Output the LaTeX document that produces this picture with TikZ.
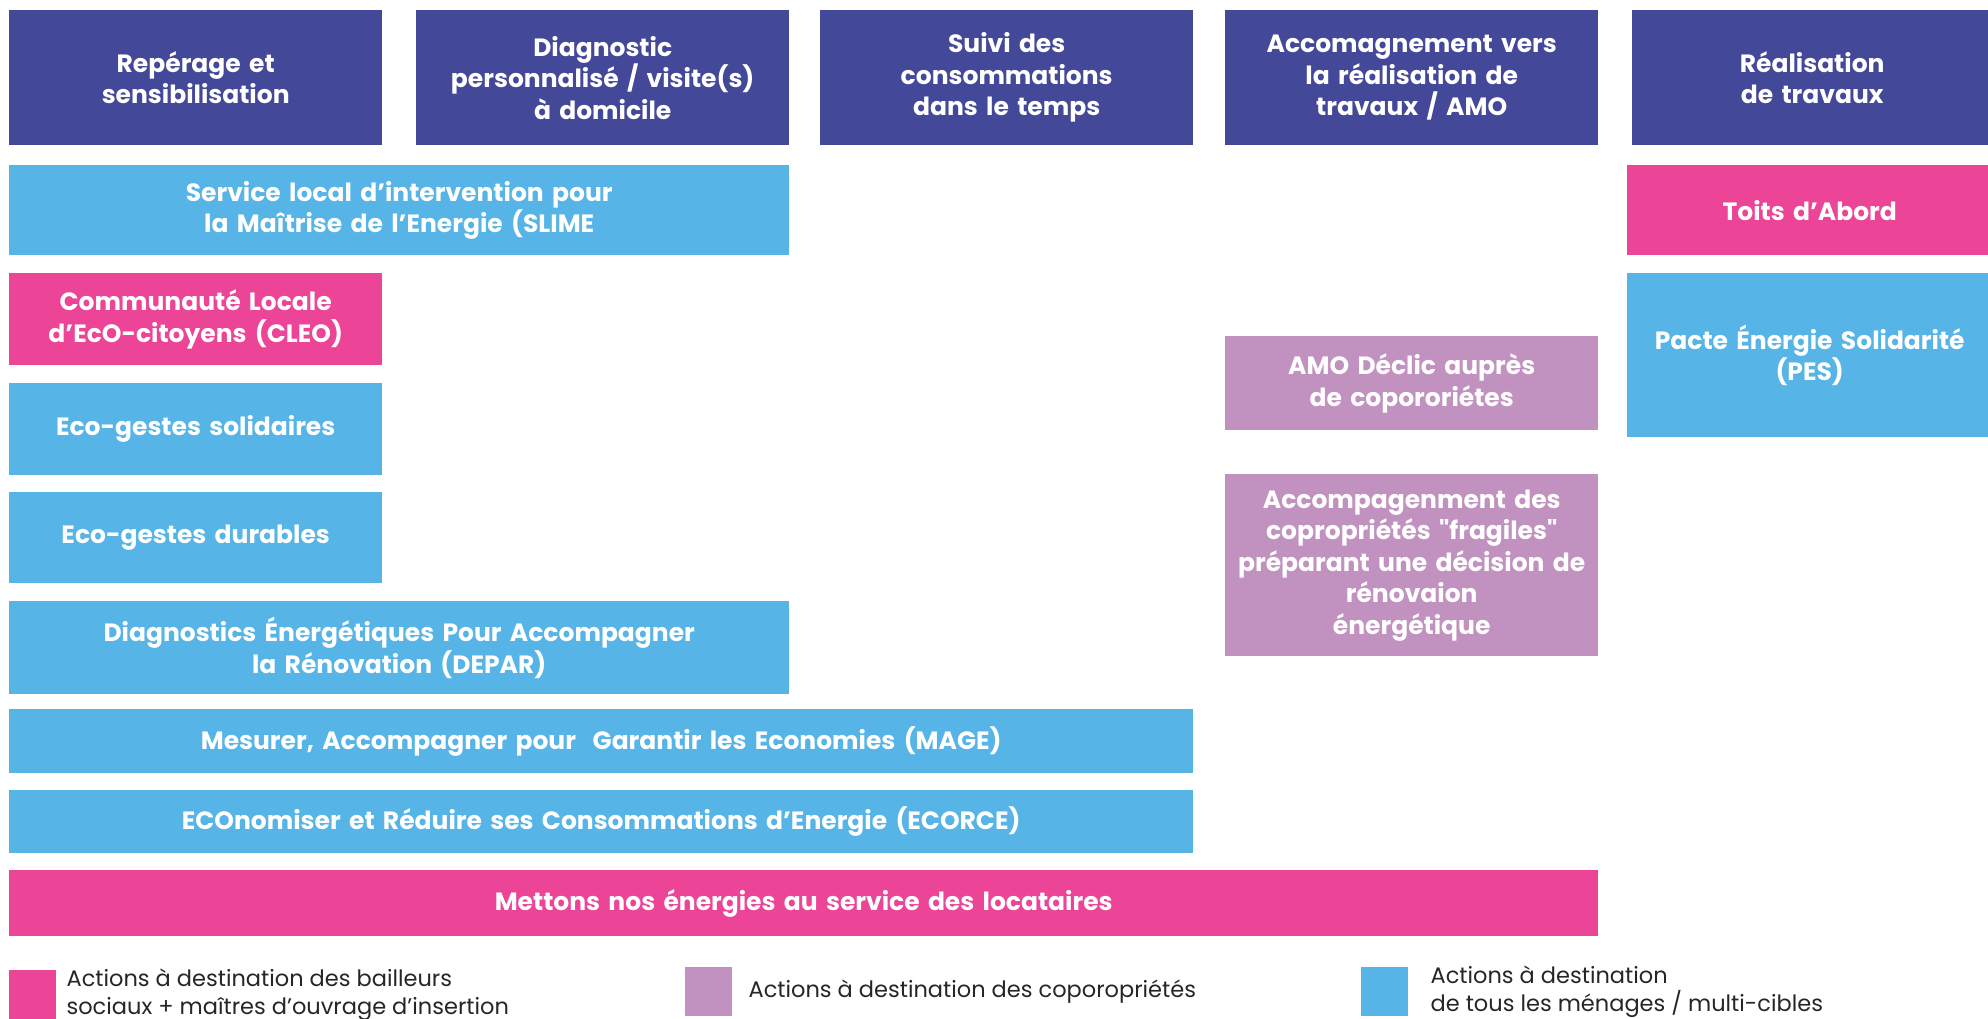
\documentclass[tikz,border=0pt]{standalone}
\usepackage{fontspec}
\setmainfont{Poppins}
\usetikzlibrary{positioning}

\definecolor{bleunuit}{RGB}{68,72,152}
\definecolor{bleuciel}{RGB}{86,180,230}
\definecolor{rose}{RGB}{236,68,150}
\definecolor{mauve}{RGB}{193,146,192}

\begin{document}
\begin{tikzpicture}[
    x=1pt, y=-1pt,
    every node/.style={anchor=north west, inner sep=0pt, align=center, text=white,
        font=\bfseries\fontsize{25}{31.5}\selectfont},
    entete/.style={fill=bleunuit, minimum height=135pt},
    bailleur/.style={fill=rose},
    copro/.style={fill=mauve},
    menage/.style={fill=bleuciel},
    legende/.style={anchor=west, align=left, text=black!85,
        font=\fontsize{22.5}{28}\selectfont}
]
\useasboundingbox (0,0) rectangle (1988,1019);

% En-tetes des etapes
\node[entete, text width=373pt] (reperage) at (9,10) {Repérage et\\sensibilisation};
\node[entete, text width=373pt] (diagnostic) at (416,10) {Diagnostic\\personnalisé / visite(s)\\à domicile};
\node[entete, text width=373pt] (suivi) at (820,10) {Suivi des\\consommations\\dans le temps};
\node[entete, text width=373pt] (amo) at (1225,10) {Accomagnement vers\\la réalisation de\\travaux / AMO};
\node[entete, text width=360pt] (travaux) at (1632,10) {Réalisation\\de travaux};

% Dispositifs
\node[menage, text width=780pt, minimum height=90pt] (slime) at (9,165)
    {Service local d'intervention pour\\la Maîtrise de l'Energie (SLIME};
\node[bailleur, text width=365pt, minimum height=90pt] (toits) at (1627,165) {Toits d'Abord};
\node[bailleur, text width=373pt, minimum height=92pt] (cleo) at (9,273)
    {Communauté Locale\\d'EcO-citoyens (CLEO)};
\node[menage, text width=365pt, minimum height=164pt] (pes) at (1627,273)
    {Pacte Énergie Solidarité\\(PES)};
\node[copro, text width=373pt, minimum height=94pt] (declic) at (1225,336)
    {AMO Déclic auprès\\de copororiétes};
\node[menage, text width=373pt, minimum height=92pt] (ecosolidaires) at (9,383) {Eco-gestes solidaires};
\node[menage, text width=373pt, minimum height=91pt] (ecodurables) at (9,492) {Eco-gestes durables};
\node[copro, text width=373pt, minimum height=182pt] (fragiles) at (1225,474)
    {Accompagenment des\\copropriétés \textquotedbl fragiles\textquotedbl\\préparant une décision de\\rénovaion\\énergétique};
\node[menage, text width=780pt, minimum height=93pt] (depar) at (9,601)
    {Diagnostics Énergétiques Pour Accompagner\\la Rénovation (DEPAR)};
\node[menage, text width=1184pt, minimum height=64pt] (mage) at (9,709)
    {Mesurer, Accompagner pour\ \ Garantir les Economies (MAGE)};
\node[menage, text width=1184pt, minimum height=63pt] (ecorce) at (9,790)
    {ECOnomiser et Réduire ses Consommations d'Energie (ECORCE)};
\node[bailleur, text width=1589pt, minimum height=66pt] (locataires) at (9,870)
    {Mettons nos énergies au service des locataires};

% Legende
\node[bailleur, minimum width=47pt, minimum height=50pt] (legbailleur) at (9,970) {};
\node[legende, right=10pt of legbailleur] (txtbailleur)
    {Actions à destination des bailleurs\\sociaux + maîtres d'ouvrage d'insertion};
\node[copro, minimum width=47pt, minimum height=49pt] (legcopro) at (685,967) {};
\node[legende, right=16pt of legcopro] (txtcopro) {Actions à destination des coporopriétés};
\node[menage, minimum width=47pt, minimum height=49pt] (legmenage) at (1361,967) {};
\node[legende, right=22pt of legmenage] (txtmenage)
    {Actions à destination\\de tous les ménages / multi-cibles};

\end{tikzpicture}
\end{document}
